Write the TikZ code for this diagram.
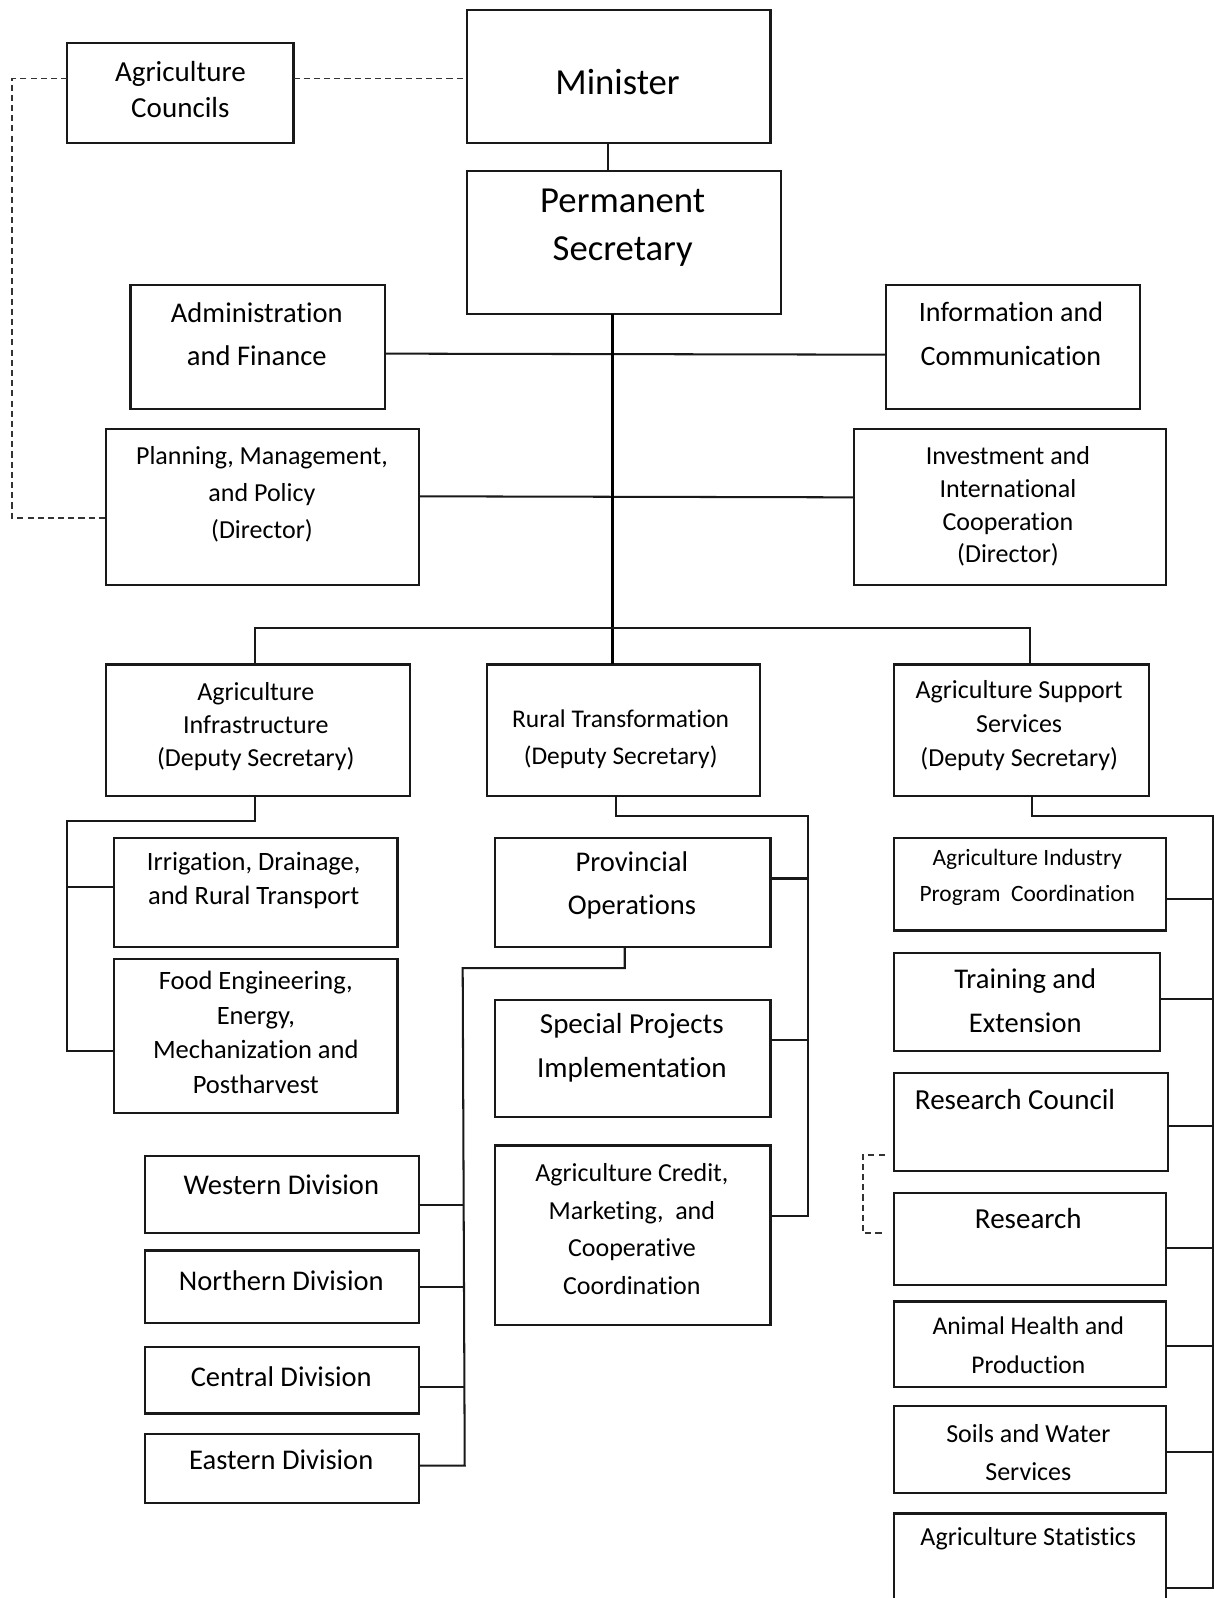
\documentclass[tikz,border=0pt]{standalone}
\usepackage{fontspec}
\setmainfont[Ligatures={NoCommon}]{Carlito}
\newcommand\BX[5]{\node[bx, minimum width={#4-#2}, minimum height={#5-#3}] (#1) at ({(#2+#4)/2},{(#3+#5)/2}) {};}
\newcommand\FS[2]{\fontsize{#1}{#2}\selectfont}
\tikzset{
  bx/.style={draw=black!90, line width=2.1pt, rectangle, inner sep=0pt, outer sep=0pt, fill=white},
  txt/.style={align=center, inner sep=0pt, text=black},
  conn/.style={draw=black!90, line width=2pt},
  trunk/.style={draw=black, line width=2.8pt},
  dsh/.style={draw=black!80, line width=1.8pt, dash pattern=on 6pt off 4pt},
}
\begin{document}
\begin{tikzpicture}[x=1pt,y=-1pt]
\useasboundingbox (0,0) rectangle (1191,1568);
\fill[white] (0,0) rectangle (1191,1568);
% top
\BX{councils}{66}{42}{288}{140}
\node[txt, font=\FS{28.5}{35}] (councils-t) at (177,88) {Agriculture\\Councils};
\BX{minister}{458}{10}{756}{140}
\node[txt, font=\FS{36}{47}] (minister-t) at (606,80) {Minister};
\BX{ps}{458}{168}{766}{308}
\node[txt, font=\FS{36}{47}] (ps-t) at (611,223) {Permanent\\Secretary};
\BX{admin}{128}{280}{378}{401}
\node[txt, font=\FS{28}{42}] (admin-t) at (252,328) {Administration\\and Finance};
\BX{info}{869}{280}{1119}{401}
\node[txt, font=\FS{27.5}{43}] (info-t) at (992,328) {Information and\\Communication};
\BX{plan}{104}{421}{411}{574}
\node[txt, font=\FS{25.5}{36}] (plan-t) at (257,485) {Planning, Management,\\and Policy\\(Director)};
\BX{invest}{838}{421}{1144}{574}
\node[txt, font=\FS{25.5}{32}] (invest-t) at (989,497) {Investment and\\International\\Cooperation\\(Director)};
% deputy level
\BX{infra}{104}{652}{402}{781}
\node[txt, font=\FS{25.5}{32}] (infra-t) at (251,713) {Agriculture\\Infrastructure\\(Deputy Secretary)};
\BX{rural}{478}{652}{746}{781}
\node[txt, font=\FS{25}{36}] (rural-t) at (609,725) {Rural Transformation\\(Deputy Secretary)};
\BX{support}{877}{652}{1127}{781}
\node[txt, font=\FS{25.5}{33}] (support-t) at (1000,712) {Agriculture Support\\Services\\(Deputy Secretary)};
% left branch
\BX{irr}{112}{822}{390}{929}
\node[txt, font=\FS{26}{33}] (irr-t) at (249,864) {Irrigation, Drainage,\\and Rural Transport};
\BX{food}{112}{941}{390}{1092}
\node[txt, font=\FS{26}{34}] (food-t) at (251,1013) {Food Engineering,\\Energy,\\Mechanization and\\Postharvest};
% middle branch
\BX{prov}{486}{822}{756}{929}
\node[txt, font=\FS{28}{42}] (prov-t) at (620,869) {Provincial\\Operations};
\BX{spec}{486}{981}{756}{1096}
\node[txt, font=\FS{28.5}{44}] (spec-t) at (620,1028) {Special Projects\\Implementation};
\BX{credit}{486}{1124}{756}{1300}
\node[txt, font=\FS{25.5}{37}] (credit-t) at (620,1206) {Agriculture Credit,\\Marketing,\ \ and\\Cooperative\\Coordination};
\BX{west}{142}{1134}{411}{1210}
\node[txt, font=\FS{28}{34}] (west-t) at (276,1163) {Western Division};
\BX{north}{142}{1227}{411}{1298}
\node[txt, font=\FS{28}{34}] (north-t) at (276,1257) {Northern Division};
\BX{central}{142}{1322}{411}{1387}
\node[txt, font=\FS{28}{34}] (central-t) at (276,1351) {Central Division};
\BX{east}{142}{1407}{411}{1475}
\node[txt, font=\FS{28}{34}] (east-t) at (276,1432) {Eastern Division};
% right branch
\BX{indprog}{877}{822}{1144}{913}
\node[txt, font=\FS{23}{35}] (indprog-t) at (1008,861) {Agriculture Industry\\Program\ \ Coordination};
\BX{training}{877}{935}{1138}{1031}
\node[txt, font=\FS{28}{43}] (training-t) at (1006,982) {Training and\\Extension};
\BX{rescouncil}{877}{1053}{1146}{1149}
\node[txt, font=\FS{28.5}{34}] (rescouncil-t) at (996,1079) {Research Council};
\BX{research}{877}{1171}{1144}{1261}
\node[txt, font=\FS{28.5}{34}] (research-t) at (1009,1196) {Research};
\BX{animal}{877}{1277}{1144}{1361}
\node[txt, font=\FS{25}{38}] (animal-t) at (1009,1320) {Animal Health and\\Production};
\BX{soils}{877}{1380}{1144}{1465}
\node[txt, font=\FS{25.5}{37}] (soils-t) at (1009,1425) {Soils and Water\\Services};
\BX{stat}{877}{1485}{1144}{1592}
\node[txt, font=\FS{25.5}{34}] (stat-t) at (1009,1510) {Agriculture Statistics};
% connectors top
\draw[conn] ([xshift=-10pt]minister.south) -- ([xshift=-10pt]minister.south |- ps.north);
\draw[dsh] (councils.east |- 0,77) -- (minister.west |- 0,77);
\draw[dsh] (councils.west |- 0,77) -- (12,77) -- (12,508) -- (plan.west |- 0,508);
\draw[conn] (admin.east |- 0,347) -- (info.west |- 0,348);
\draw[conn] (plan.east |- 0,487) -- (invest.west |- 0,488);
\draw[trunk] (ps.south -| 601,0) -- (rural.north -| 601,0);
\draw[conn] (infra.north -| 250,0) -- (250,616) -- (1011,616) -- (support.north -| 1011,0);
% left branch
\draw[conn] (infra.south -| 250,0) -- (250,806) -- (66,806) -- (66,1031) -- (food.west |- 0,1031);
\draw[conn] (66,870) -- (irr.west |- 0,870);
% middle branch
\draw[conn] (rural.south -| 604,0) -- (604,801) -- (793,801) -- (793,1193) -- (credit.east |- 0,1193);
\draw[conn] (prov.east |- 0,862) -- (793,862);
\draw[conn] (spec.east |- 0,1020) -- (793,1020);
\draw[conn] (prov.south -| 613,0) -- (613,950) -- (454,950) -- (456,1438) -- (east.east |- 0,1438);
\draw[conn] (west.east |- 0,1182) -- (454,1182);
\draw[conn] (north.east |- 0,1263) -- (455,1263);
\draw[conn] (central.east |- 0,1361) -- (456,1361);
% right branch
\draw[conn] (support.south -| 1013,0) -- (1013,801) -- (1190,801) -- (1190,1558) -- (stat.east |- 0,1558);
\draw[conn] (indprog.east |- 0,882) -- (1190,882);
\draw[conn] (training.east |- 0,980) -- (1190,980);
\draw[conn] (rescouncil.east |- 0,1105) -- (1190,1105);
\draw[conn] (research.east |- 0,1225) -- (1190,1225);
\draw[conn] (animal.east |- 0,1321) -- (1190,1321);
\draw[conn] (soils.east |- 0,1425) -- (1190,1425);
% dashed research link
\coordinate (rcd) at ([xshift=-9pt]rescouncil.west |- 0,1133);
\coordinate (rsd) at ([xshift=-9pt]research.west |- 0,1210);
\draw[dsh] (rcd) -- (847,1133) -- (847,1210) -- (rsd);
\end{tikzpicture}
\end{document}
